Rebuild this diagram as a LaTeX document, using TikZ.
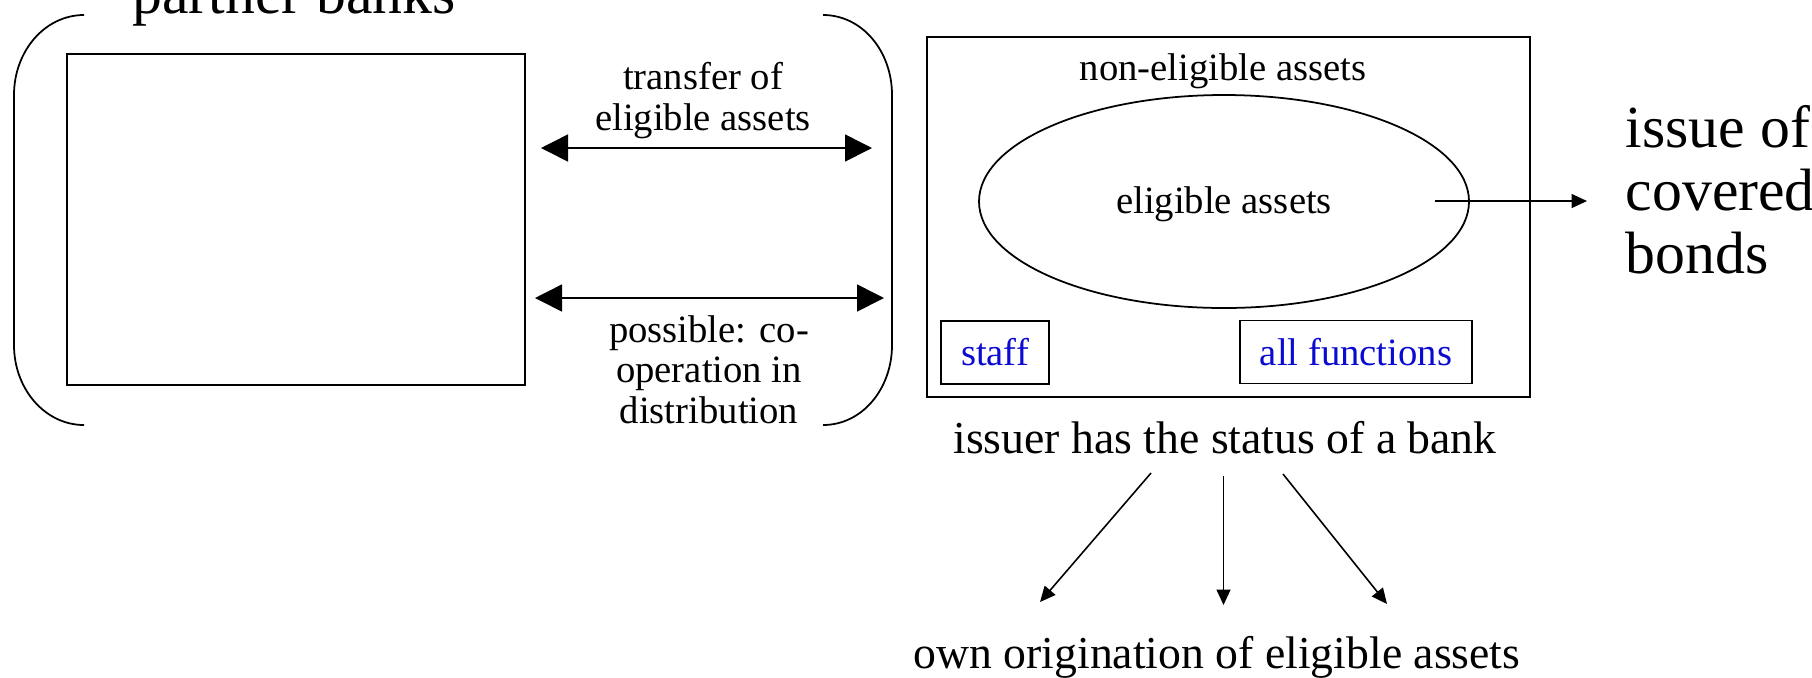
\documentclass[tikz,border=0pt]{standalone}
\usepackage{fontspec}
\setmainfont{Liberation Serif}
\usepackage{tikz}
\usetikzlibrary{arrows.meta,shapes.geometric}

\definecolor{textblue}{RGB}{10,10,210}

\tikzset{
	smalltext/.style={font=\fontsize{11}{11.4}\selectfont, align=center, inner sep=0pt},
	midtext/.style={font=\fontsize{13}{15}\selectfont, inner sep=0pt},
	bigtext/.style={font=\fontsize{17}{17.9}\selectfont, inner sep=0pt},
	frame/.style={draw, line width=0.5pt, inner sep=0pt},
	bluebox/.style={frame, text=textblue, font=\fontsize{11}{13}\selectfont, minimum height=6.3mm},
	twoway/.style={line width=0.45pt, {Triangle[length=2.7mm,width=2.7mm]}-{Triangle[length=2.7mm,width=2.7mm]}},
	oneway/.style={line width=0.45pt, -{Triangle[length=1.55mm,width=1.4mm]}}
}

\begin{document}
\begin{tikzpicture}[x=0.1mm, y=-0.1mm]
	\useasboundingbox (0,0) rectangle (1812,677);

	% Left bracket group: partner banks
	\draw[line width=0.5pt] (84,15) .. controls (45,15) and (14,51) .. (14,95) -- (14,345)
		.. controls (14,389) and (45,425) .. (84,425);
	\draw[line width=0.5pt] (823,15) .. controls (862,15) and (892,51) .. (892,95) -- (892,345)
		.. controls (892,389) and (862,425) .. (823,425);
	\node (partners) at (294,13) [bigtext, anchor=base] {partner banks};
	\node (pbox) at (296,219.5) [frame, minimum width=45.8mm, minimum height=33.1mm] {};

	% Links between partner banks and issuer
	\coordinate (trL) at (541,148);
	\coordinate (trR) at (872,148);
	\draw[twoway] (trL) -- (trR);
	\node (transfer) at (703,130) [smalltext, anchor=base] {transfer of\\eligible assets};

	\coordinate (coL) at (535,298);
	\coordinate (coR) at (884,298);
	\draw[twoway] (coL) -- (coR);
	\node (coop) at (709,423) [smalltext, anchor=base] {possible: co-\\operation in\\distribution};

	% Issuer
	\node (ibox) at (1228.5,217) [frame, minimum width=60.3mm, minimum height=36mm] {};
	\node (noneli) at (1223,80) [smalltext, anchor=base] {non-eligible assets};
	\node (eli) at (1224,201.5) [ellipse, frame, minimum width=49mm, minimum height=21.3mm] {};
	\node (elitext) at (1224,213) [smalltext, anchor=base] {eligible assets};
	\node (staff) at (995,352.5) [bluebox, minimum width=10.8mm] {staff};
	\node (allfun) at (1356,352) [bluebox, minimum width=23.2mm] {all functions};

	% Issue of covered bonds
	\coordinate (isA) at (1435,201);
	\coordinate (isB) at (1587,201);
	\draw[oneway] (isA) -- (isB);
	\node (issue) at (1625,273) [bigtext, align=left, anchor=base west] {issue of\\covered\\bonds};

	% Status and origination
	\node (status) at (1225,453) [midtext, anchor=base] {issuer has the status of a bank};
	\node (orig) at (1217,668) [midtext, anchor=base] {own origination of eligible assets};
	\coordinate (sA) at (1151,473);
	\coordinate (sB) at (1223.5,476);
	\coordinate (sC) at (1283,474);
	\coordinate (oA) at (1040,602);
	\coordinate (oB) at (1223.5,605);
	\coordinate (oC) at (1387,604);
	\draw[oneway] (sA) -- (oA);
	\draw[oneway] (sB) -- (oB);
	\draw[oneway] (sC) -- (oC);

\end{tikzpicture}
\end{document}
